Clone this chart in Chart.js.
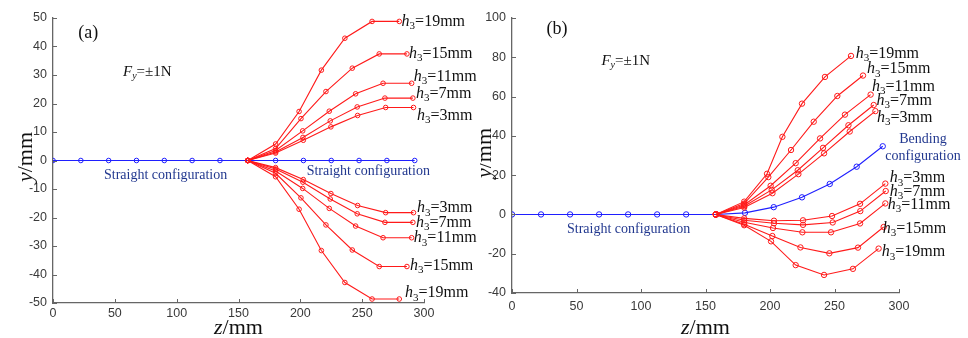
<!DOCTYPE html>
<html lang="en">
<head>
<meta charset="UTF-8">
<title>Deflection curves</title>
<script src="https://cdn.jsdelivr.net/npm/chart.js@4.4.0/dist/chart.umd.min.js"></script>
<style>
    body { margin: 0; background: #fff; }
    .wrap { position: relative; width: 968px; height: 338px; }
    canvas { position: absolute; top: 0; }
    #chartA { left: 0; }
    #chartB { left: 480px; }
</style>
</head>
<body>
<div class="wrap">
    <canvas id="chartA" width="480" height="338"></canvas>
    <canvas id="chartB" width="488" height="338"></canvas>
</div>
<script>
// ---- panel (a): straight configuration, F = +/-1N ----
const zStraightA = [0, 22.5, 45, 67.5, 90, 112.5, 135, 157.5, 180, 202.5, 225, 247.5, 270, 292.5];
const yStraightA = [0, 0, 0, 0, 0, 0, 0, 0, 0, 0, 0, 0, 0, 0];

const zA19 = [157.5, 180, 199, 217, 236, 258, 280];
const yA19up = [0, 5.8, 17.2, 31.7, 42.9, 48.8, 48.8];
const yA19dn = [0, -5.7, -17.1, -31.6, -42.8, -48.6, -48.6];
const zA15 = [157.5, 180, 200.5, 220.7, 242, 263.8, 286.2];
const yA15up = [0, 4.2, 14.7, 24.2, 32.4, 37.4, 37.4];
const yA15dn = [0, -4.5, -13.1, -22.6, -31.4, -37.2, -37.2];
const zA11 = [157.5, 180, 201.9, 223.4, 244.7, 266.9, 290];
const yA11up = [0, 3.5, 10.4, 17.3, 23.4, 27.1, 27.1];
const yA11dn = [0, -3.7, -9.8, -16.8, -23, -27.1, -27.1];
const zA7 = [157.5, 180, 202.1, 224.2, 246, 268.4, 291];
const yA7up = [0, 3.0, 8.1, 13.9, 18.8, 21.9, 21.9];
const yA7dn = [0, -3.0, -7.6, -13.5, -18.7, -21.7, -21.7];
const zA3 = [157.5, 180, 202.4, 224.7, 246.3, 269, 291.5];
const yA3up = [0, 2.6, 7.1, 11.8, 15.8, 18.6, 18.6];
const yA3dn = [0, -2.5, -6.7, -11.6, -15.8, -18.3, -18.3];

// ---- panel (b): bending configuration ----
const zBend = [0, 22.5, 45, 67.5, 90, 112.5, 135, 158, 180.6, 202.9, 224.8, 246.3, 267.2, 287.4];
const yBend = [0, 0, 0, 0, 0, 0, 0, 0, 0.8, 3.7, 8.7, 15.5, 24.3, 34.7];

const zB19up = [158, 180, 197.7, 209.6, 224.8, 242.6, 262.8];
const yB19up = [0, 6.5, 20.7, 39.5, 56.4, 70, 80.7];
const zB15up = [158, 180, 198.7, 216.3, 233.9, 252.2, 272.1];
const yB15up = [0, 5.5, 19, 32.8, 47.2, 60.3, 70.7];
const zB11up = [158, 180, 200.5, 219.9, 238.8, 258.1, 278];
const yB11up = [0, 4.8, 14.6, 26.1, 38.7, 50.8, 61];
const zB7up = [158, 180, 201.3, 221.5, 241.1, 260.8, 280.4];
const yB7up = [0, 4.2, 12.5, 22.5, 33.9, 45.4, 55.7];
const zB3up = [158, 180, 201.9, 222, 241.9, 261.8, 281.7];
const yB3up = [0, 3.5, 10.8, 20.5, 31.1, 42.2, 52.6];

const zB3dn = [158, 180, 203.1, 225.6, 248.1, 269.8, 289.4];
const yB3dn = [0, -2, -3.2, -3, -0.8, 5.4, 15.7];
const zB7dn = [158, 180, 203.1, 225.6, 248.6, 270, 289.7];
const yB7dn = [0, -3, -4.5, -5.3, -4.1, 1.7, 11.9];
const zB11dn = [158, 180, 202.3, 225.1, 247.3, 269.8, 289.4];
const yB11dn = [0, -4, -6.9, -9.1, -9.1, -4.6, 5.6];
const zB15dn = [158, 180, 201.8, 223.6, 246, 268.2, 288.1];
const yB15dn = [0, -5, -11, -16.8, -19.8, -16.9, -6.4];
const zB19dn = [158, 180, 200.8, 219.9, 241.9, 264.3, 284.2];
const yB19dn = [0, -5.5, -13.7, -25.8, -30.8, -27.7, -17.4];

const RED = '#ff1a1a';
const BLUE = '#1f1fff';
const NAVY = '#22388f';
const AXIS = '#666';
const SERIF = '"Liberation Serif", "Times New Roman", serif';

function pts(z, y) {
    return z.map((v, i) => ({ x: v, y: y[i] }));
}

function series(z, y, color, r) {
    return {
        data: pts(z, y),
        showLine: true,
        borderColor: color,
        borderWidth: 1.1,
        pointStyle: 'circle',
        pointRadius: r,
        pointBorderWidth: 1,
        pointBorderColor: color,
        pointBackgroundColor: 'rgba(0,0,0,0)',
        tension: 0
    };
}

// text made of runs: [text, style] with style 'r' | 'i' | 'sub' | 'isub'
function runFont(style, size) {
    if (style === 'i') return 'italic ' + size + 'px ' + SERIF;
    if (style === 'sub') return Math.round(size * 0.68) + 'px ' + SERIF;
    if (style === 'isub') return 'italic ' + Math.round(size * 0.68) + 'px ' + SERIF;
    return size + 'px ' + SERIF;
}

function runWidth(ctx, runs, size) {
    let w = 0;
    runs.forEach(([t, s]) => { ctx.font = runFont(s, size); w += ctx.measureText(t).width; });
    return w;
}

function drawRuns(ctx, x, y, runs, size, color, baseline) {
    ctx.fillStyle = color;
    ctx.textBaseline = baseline || 'middle';
    ctx.textAlign = 'left';
    let cx = x;
    runs.forEach(([t, s]) => {
        ctx.font = runFont(s, size);
        const dy = (s === 'sub' || s === 'isub') ? size * 0.3 : 0;
        ctx.fillText(t, cx, y + dy);
        cx += ctx.measureText(t).width;
    });
}

function h3(mm) {
    return [['h', 'i'], ['3', 'sub'], ['=' + mm + 'mm', 'r']];
}
const FY = [['F', 'i'], ['y', 'isub'], ['=\u00b11N', 'r']];

// labels and inward tick marks drawn on top of the chart
const decorations = {
    id: 'decorations',
    afterDraw(chart, args, opts) {
        const ctx = chart.ctx;
        const xs = chart.scales.x, ys = chart.scales.y;
        const area = chart.chartArea;
        ctx.save();

        ctx.strokeStyle = AXIS;
        ctx.lineWidth = 1;
        xs.ticks.forEach(t => {
            const px = Math.round(xs.getPixelForValue(t.value)) + 0.5;
            ctx.beginPath();
            ctx.moveTo(px, area.bottom);
            ctx.lineTo(px, area.bottom - 4);
            ctx.stroke();
        });
        ys.ticks.forEach(t => {
            const py = Math.round(ys.getPixelForValue(t.value)) + 0.5;
            ctx.beginPath();
            ctx.moveTo(area.left, py);
            ctx.lineTo(area.left + 4, py);
            ctx.stroke();
        });

        opts.labels.forEach(l => {
            const px = xs.getPixelForValue(l.z);
            const py = ys.getPixelForValue(l.y);
            let x0 = px;
            if (l.center) x0 = px - runWidth(ctx, l.runs, l.size) / 2;
            drawRuns(ctx, x0, py, l.runs, l.size, l.color || '#111');
        });

        // axis titles
        const xt = [['z', 'i'], ['/mm', 'r']];
        const xw = runWidth(ctx, xt, 22);
        drawRuns(ctx, (area.left + area.right) / 2 - xw / 2, opts.xTitleBase, xt, 22, '#111', 'alphabetic');

        const yt = [['y', 'i'], ['/mm', 'r']];
        const yw = runWidth(ctx, yt, 22);
        ctx.translate(opts.yTitleX, opts.yTitleMid);
        ctx.rotate(-Math.PI / 2);
        drawRuns(ctx, -yw / 2, 0, yt, 22, '#111');
        ctx.restore();
    }
};

function scales(ymin, ymax, ystep, yWidth, xHeight, xPad) {
    const tickFont = { family: '"Liberation Sans", Arial, sans-serif', size: 12.5 };
    return {
        x: {
            type: 'linear', min: 0, max: 300,
            ticks: { stepSize: 50, autoSkip: false, color: '#3a3a3a', font: tickFont, padding: xPad, maxRotation: 0 },
            grid: { display: false, drawTicks: false },
            border: { display: true, color: AXIS, width: 1.3 },
            afterFit: s => { s.height = xHeight; }
        },
        y: {
            type: 'linear', min: ymin, max: ymax,
            ticks: { stepSize: ystep, autoSkip: false, color: '#3a3a3a', font: tickFont, padding: 6 },
            grid: { display: false, drawTicks: false },
            border: { display: true, color: AXIS, width: 1.3 },
            afterFit: s => { s.width = yWidth; }
        }
    };
}

const baseOptions = {
    responsive: false,
    animation: false,
    plugins: { legend: { display: false }, tooltip: { enabled: false } }
};

// ---- chart (a) ----
new Chart(document.getElementById('chartA'), {
    type: 'scatter',
    data: {
        datasets: [
            series(zA19, yA19up, RED, 2.3), series(zA15, yA15up, RED, 2.3), series(zA11, yA11up, RED, 2.3),
            series(zA7, yA7up, RED, 2.3), series(zA3, yA3up, RED, 2.3),
            series(zA19, yA19dn, RED, 2.3), series(zA15, yA15dn, RED, 2.3), series(zA11, yA11dn, RED, 2.3),
            series(zA7, yA7dn, RED, 2.3), series(zA3, yA3dn, RED, 2.3),
            series(zStraightA, yStraightA, BLUE, 2.3)
        ]
    },
    options: Object.assign({}, baseOptions, {
        layout: { padding: { left: 0, right: 56, top: 18, bottom: 0 } },
        scales: scales(-50, 50, 10, 53, 35, 3),
        plugins: Object.assign({}, baseOptions.plugins, {
            decorations: {
                xTitleBase: 334, yTitleX: 26, yTitleMid: 157,
                labels: [
                    { z: 20.5, y: 44.5, runs: [['(a)', 'r']], size: 18 },
                    { z: 56.6, y: 31.2, runs: FY, size: 15 },
                    { z: 281.9, y: 48.8, runs: h3(19), size: 16 },
                    { z: 287.8, y: 37.5, runs: h3(15), size: 16 },
                    { z: 291.8, y: 29.5, runs: h3(11), size: 16 },
                    { z: 293.5, y: 23.5, runs: h3(7), size: 16 },
                    { z: 294.3, y: 15.8, runs: h3(3), size: 16 },
                    { z: 294.3, y: -16.6, runs: h3(3), size: 16 },
                    { z: 293.5, y: -21.8, runs: h3(7), size: 16 },
                    { z: 291.8, y: -27.2, runs: h3(11), size: 16 },
                    { z: 288.6, y: -36.9, runs: h3(15), size: 16 },
                    { z: 284.6, y: -46.5, runs: h3(19), size: 16 },
                    { z: 41.2, y: -5.1, runs: [['Straight configuration', 'r']], size: 14, color: NAVY },
                    { z: 205.1, y: -3.7, runs: [['Straight configuration', 'r']], size: 14, color: NAVY }
                ]
            }
        })
    }),
    plugins: [decorations]
});

// ---- chart (b) ----
new Chart(document.getElementById('chartB'), {
    type: 'scatter',
    data: {
        datasets: [
            series(zB19up, yB19up, RED, 2.7), series(zB15up, yB15up, RED, 2.7), series(zB11up, yB11up, RED, 2.7),
            series(zB7up, yB7up, RED, 2.7), series(zB3up, yB3up, RED, 2.7),
            series(zB3dn, yB3dn, RED, 2.7), series(zB7dn, yB7dn, RED, 2.7), series(zB11dn, yB11dn, RED, 2.7),
            series(zB15dn, yB15dn, RED, 2.7), series(zB19dn, yB19dn, RED, 2.7),
            series(zBend, yBend, BLUE, 2.7)
        ]
    },
    options: Object.assign({}, baseOptions, {
        layout: { padding: { left: 0, right: 69, top: 18, bottom: 0 } },
        scales: scales(-40, 100, 20, 32, 45, 6),
        plugins: Object.assign({}, baseOptions.plugins, {
            decorations: {
                xTitleBase: 334, yTitleX: 5, yTitleMid: 153,
                labels: [
                    { z: 26.7, y: 94.5, runs: [['(b)', 'r']], size: 18 },
                    { z: 69.3, y: 78.3, runs: FY, size: 15 },
                    { z: 266.4, y: 82, runs: h3(19), size: 16 },
                    { z: 275.2, y: 74, runs: h3(15), size: 16 },
                    { z: 279.1, y: 65.1, runs: h3(11), size: 16 },
                    { z: 282.5, y: 58.1, runs: h3(7), size: 16 },
                    { z: 283, y: 49.2, runs: h3(3), size: 16 },
                    { z: 292.8, y: 18.5, runs: h3(3), size: 16 },
                    { z: 292.8, y: 11.6, runs: h3(7), size: 16 },
                    { z: 291.2, y: 5.1, runs: h3(11), size: 16 },
                    { z: 287.4, y: -7.2, runs: h3(15), size: 16 },
                    { z: 286.6, y: -19.2, runs: h3(19), size: 16 },
                    { z: 318.6, y: 38.1, runs: [['Bending', 'r']], size: 14, color: NAVY, center: true },
                    { z: 318.6, y: 29.5, runs: [['configuration', 'r']], size: 14, color: NAVY, center: true },
                    { z: 42.6, y: -7.7, runs: [['Straight configuration', 'r']], size: 14, color: NAVY }
                ]
            }
        })
    }),
    plugins: [decorations]
});
</script>
</body>
</html>
